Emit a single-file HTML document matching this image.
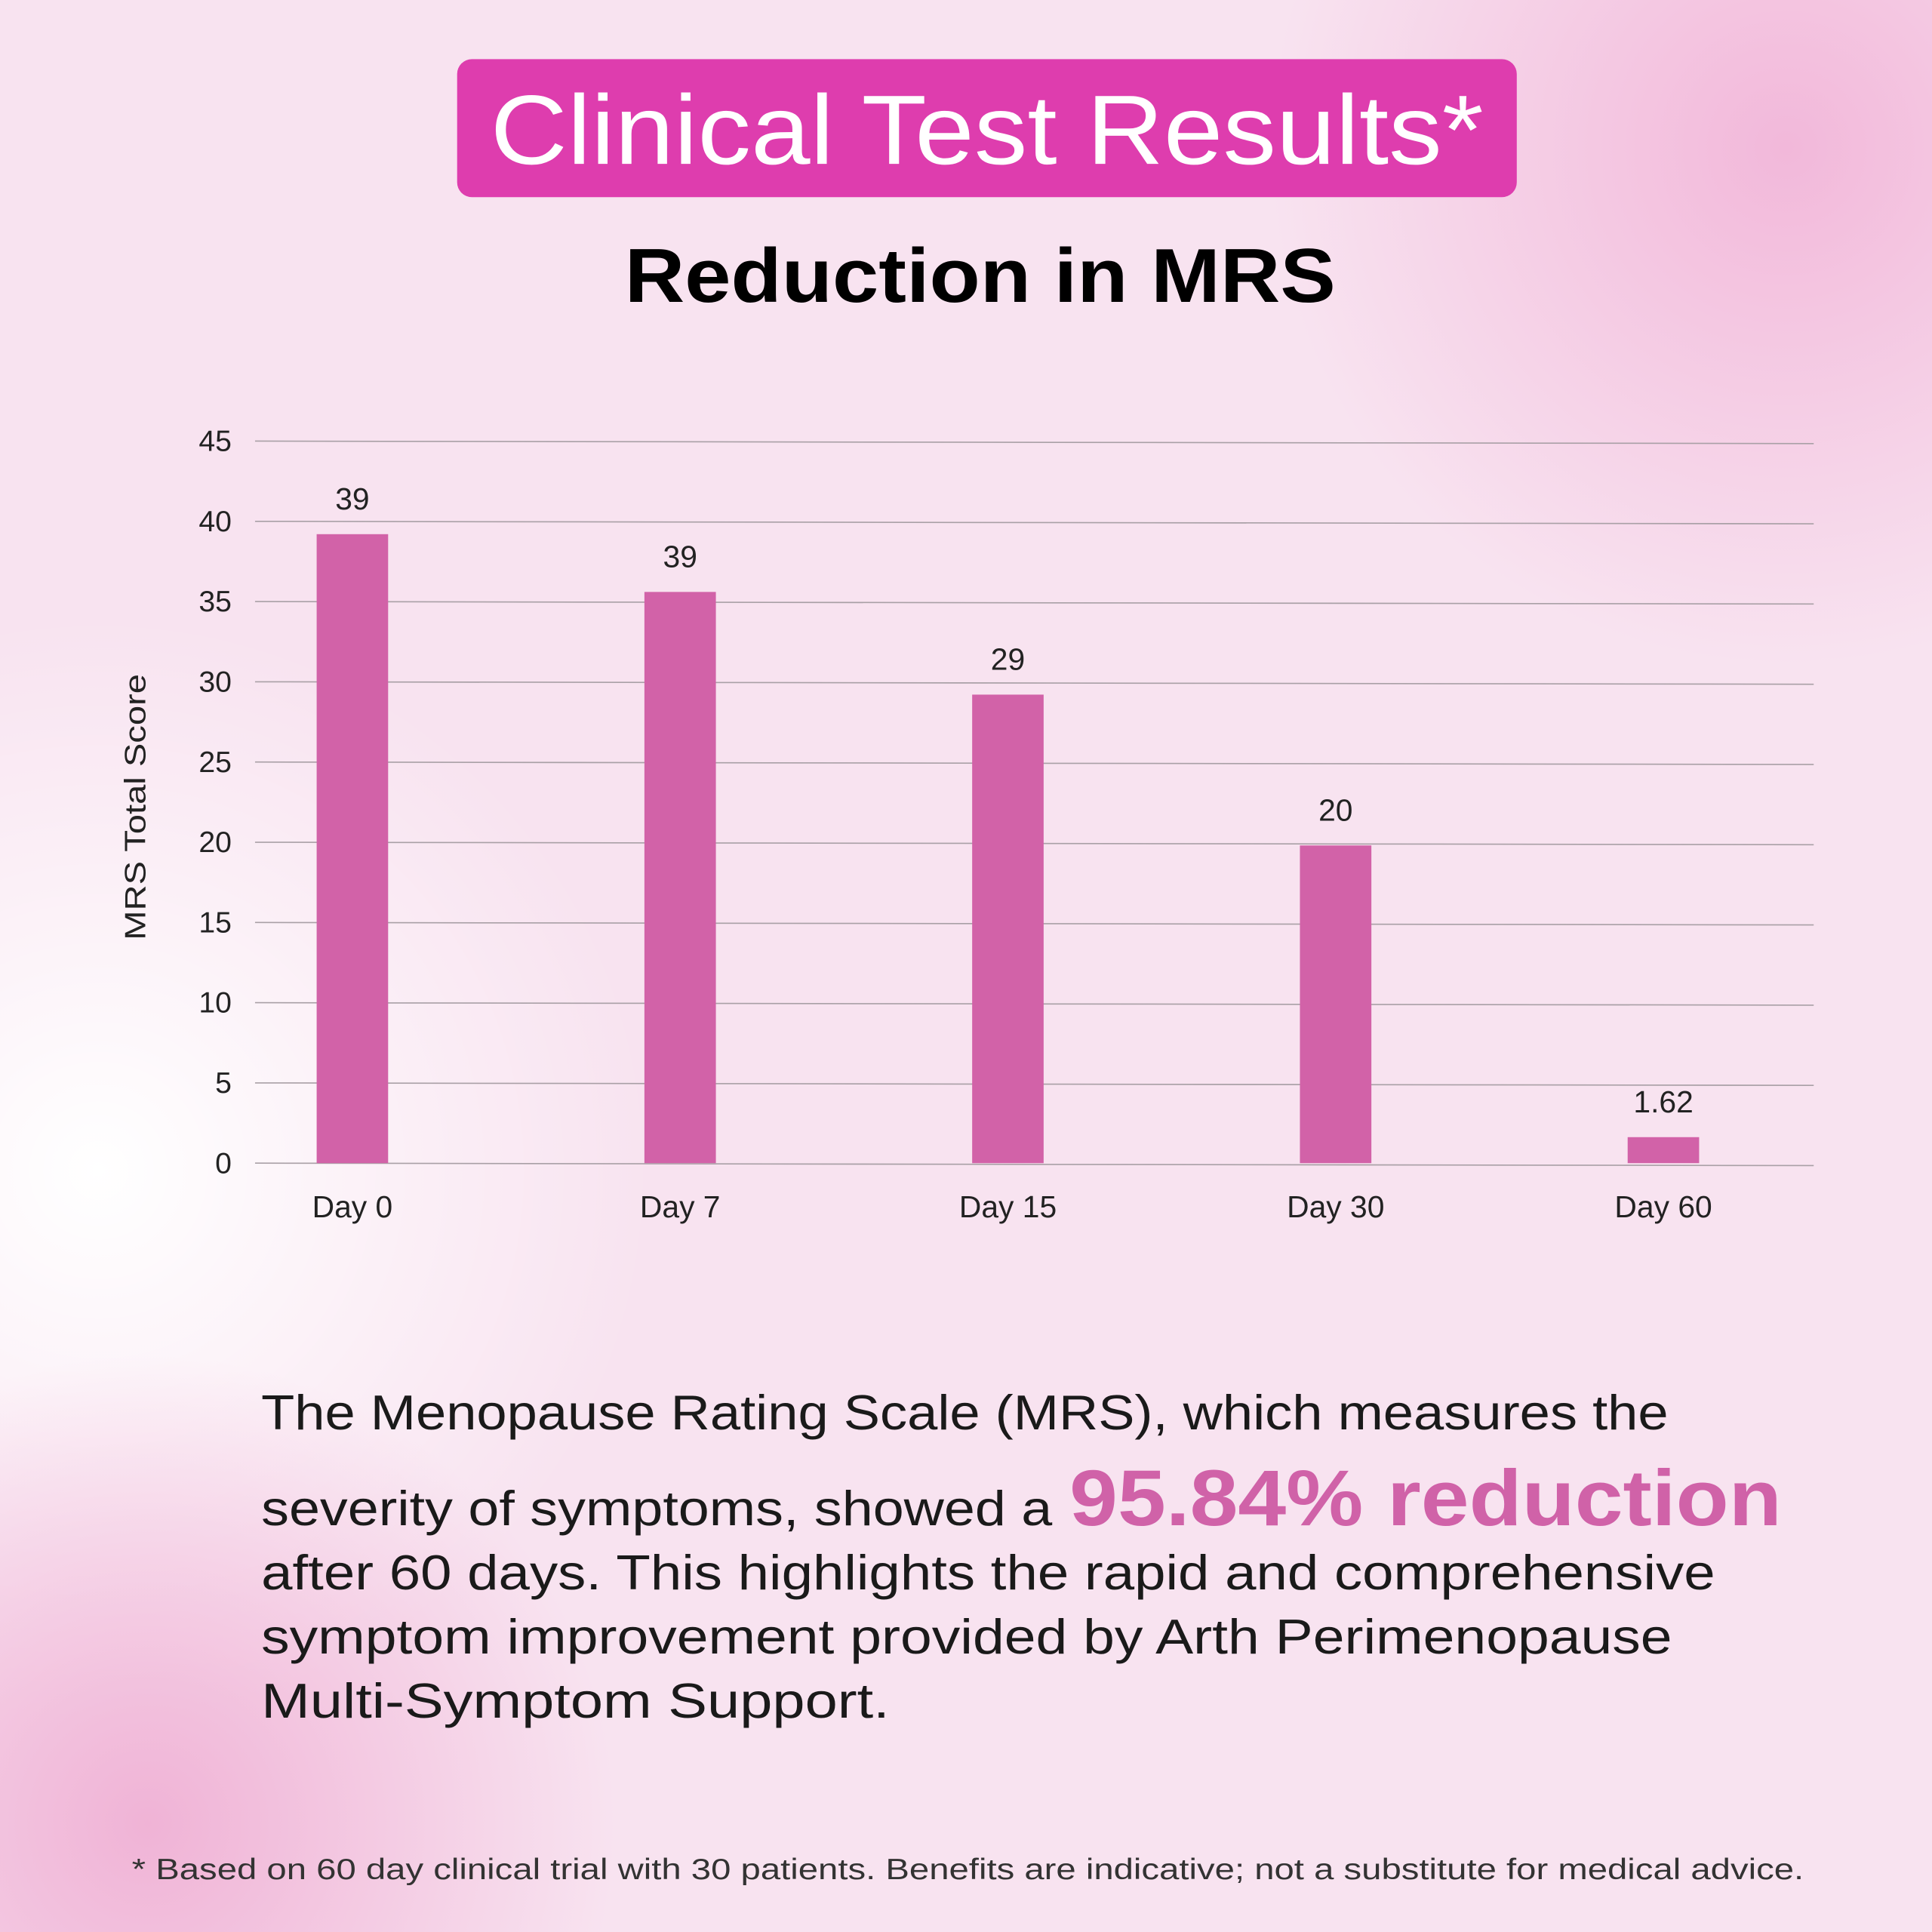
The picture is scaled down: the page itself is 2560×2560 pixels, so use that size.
<!DOCTYPE html>
<html><head><meta charset="utf-8"><style>
html,body{margin:0;padding:0;width:2560px;height:2560px;overflow:hidden}
svg{display:block}
text{font-family:"Liberation Sans",sans-serif}
</style></head><body>
<svg id="chart" width="2560" height="2560" viewBox="0 0 1568 1568" xmlns="http://www.w3.org/2000/svg">
<defs>
<radialGradient id="g1" cx="1450" cy="120" r="420" gradientUnits="userSpaceOnUse"><stop offset="0" stop-color="#f2b8da"/><stop offset="1" stop-color="#f2b8da" stop-opacity="0"/></radialGradient>
<radialGradient id="g2" cx="120" cy="1480" r="380" gradientUnits="userSpaceOnUse"><stop offset="0" stop-color="#f0b3d6"/><stop offset="1" stop-color="#f0b3d6" stop-opacity="0"/></radialGradient>
<radialGradient id="g3" cx="80" cy="950" r="450" gradientUnits="userSpaceOnUse"><stop offset="0" stop-color="#ffffff"/><stop offset="1" stop-color="#ffffff" stop-opacity="0"/></radialGradient>
</defs>
<rect width="1568" height="1568" fill="#f8e3f0"/>
<rect width="1568" height="1568" fill="url(#g3)"/>
<rect width="1568" height="1568" fill="url(#g1)"/>
<rect width="1568" height="1568" fill="url(#g2)"/>
<rect x="371" y="48" width="860" height="112" rx="12" fill="#de3dae"/>
<text x="398" y="133" textLength="806" lengthAdjust="spacingAndGlyphs" font-size="80" fill="#fff">Clinical Test Results*</text>
<text x="507" y="245" textLength="577" lengthAdjust="spacingAndGlyphs" font-size="62" font-weight="bold" fill="#000">Reduction in MRS</text>
<g id="grid"></g><g id="bars"></g><g id="labels"></g>
<text transform="translate(118,655) rotate(-90)" text-anchor="middle" textLength="216" lengthAdjust="spacingAndGlyphs" font-size="24" fill="#222">MRS Total Score</text>
<g font-size="40" fill="#1a1a1a">
<text x="212" y="1160" textLength="1142" lengthAdjust="spacingAndGlyphs">The Menopause Rating Scale (MRS), which measures the</text>
<text x="212" y="1238" textLength="642" lengthAdjust="spacingAndGlyphs">severity of symptoms, showed a</text>
<text x="868" y="1238" textLength="578" lengthAdjust="spacingAndGlyphs" font-size="64" font-weight="bold" fill="#d062a8">95.84% reduction</text>
<text x="212" y="1290" textLength="1180" lengthAdjust="spacingAndGlyphs">after 60 days. This highlights the rapid and comprehensive</text>
<text x="212" y="1342" textLength="1145" lengthAdjust="spacingAndGlyphs">symptom improvement provided by Arth Perimenopause</text>
<text x="212" y="1394" textLength="510" lengthAdjust="spacingAndGlyphs">Multi-Symptom Support.</text>
</g>
<text x="107" y="1525" textLength="1357" lengthAdjust="spacingAndGlyphs" font-size="24" fill="#333">* Based on 60 day clinical trial with 30 patients. Benefits are indicative; not a substitute for medical advice.</text>
</svg>
<script>
const categories=["Day 0","Day 7","Day 15","Day 30","Day 60"];
const values=[39.2,35.6,29.2,19.8,1.62];
const valueLabels=["39","39","29","20","1.62"];
const yTicks=[0,5,10,15,20,25,30,35,40,45];
const NS="http://www.w3.org/2000/svg";
const y0=944,yTop=358,yMax=45;
const y=v=>y0-(v/yMax)*(y0-yTop);
const xL=207,xR=1472;
const x=i=>286+i*266;
const grid=document.getElementById('grid'),bars=document.getElementById('bars'),labels=document.getElementById('labels');
function mk(t,a,p){const e=document.createElementNS(NS,t);for(const k in a)e.setAttribute(k,a[k]);p.appendChild(e);return e;}
yTicks.forEach(t=>{
 const l=mk('line',{x1:xL,x2:xR,y1:y(t),y2:y(t)+2,stroke:'#a9a0a6','stroke-width':1},grid);
 
 
 const tx=mk('text',{x:188,y:y(t)+8,'text-anchor':'end','font-size':24,fill:'#222'},grid);
 tx.textContent=t;
 
 
});
categories.forEach((c,i)=>{
 const b=mk('rect',{x:x(i)-29,y:y(values[i]),width:58,height:y0-y(values[i]),fill:'#d262a8'},bars);
 
 
 const v=mk('text',{x:x(i),y:y(values[i])-20,'text-anchor':'middle','font-size':25,fill:'#222'},labels);
 v.textContent=valueLabels[i];
 
 
 const xl=mk('text',{x:x(i),y:988,'text-anchor':'middle','font-size':25,fill:'#222'},labels);
 xl.textContent=c;
 
 
});
</script>
</body></html>
